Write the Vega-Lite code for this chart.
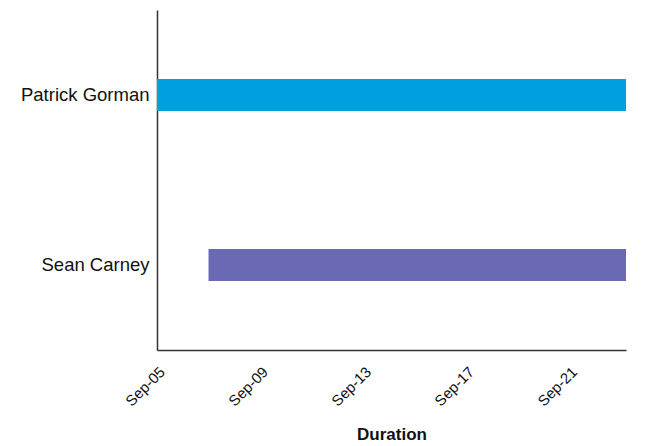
{
  "$schema": "https://vega.github.io/schema/vega-lite/v6.json",
  "width": 469,
  "height": 340,
  "autosize": {"type": "none"},
  "padding": {"left": 157, "top": 10, "right": 27, "bottom": 96},
  "background": "white",
  "config": {
    "font": "Liberation Sans",
    "view": {"stroke": null}
  },
  "data": {
    "values": [
      {"person": "Patrick Gorman", "start": "2023-09-05T00:00:00", "end": "2023-09-23T05:00:00"},
      {"person": "Sean Carney", "start": "2023-09-07T00:00:00", "end": "2023-09-23T05:00:00"}
    ]
  },
  "mark": {"type": "bar", "height": 32},
  "encoding": {
    "y": {
      "field": "person",
      "type": "nominal",
      "sort": ["Patrick Gorman", "Sean Carney"],
      "scale": {"paddingInner": 0, "paddingOuter": 0},
      "axis": {
        "title": null,
        "ticks": false,
        "domainColor": "#333333",
        "domainWidth": 1.5,
        "labelPadding": 8,
        "labelFontSize": 18.5,
        "labelColor": "#111111"
      }
    },
    "x": {
      "field": "start",
      "type": "temporal",
      "scale": {"domain": ["2023-09-05T00:00:00", "2023-09-23T05:00:00"], "nice": false},
      "axis": {
        "title": "Duration",
        "titleFontSize": 17,
        "titleFontWeight": "bold",
        "titleColor": "#111111",
        "format": "%b-%d",
        "tickCount": {"interval": "day", "step": 4},
        "ticks": false,
        "grid": false,
        "domainColor": "#333333",
        "domainWidth": 1.5,
        "labelAngle": -45,
        "labelFontSize": 15,
        "labelColor": "#111111",
        "labelPadding": 14,
        "labelDx": 13,
        "labelDy": 12,
        "titlePadding": 18
      }
    },
    "x2": {"field": "end"},
    "color": {
      "field": "person",
      "type": "nominal",
      "scale": {"domain": ["Patrick Gorman", "Sean Carney"], "range": ["#00A0E0", "#6A6AB4"]},
      "legend": null
    }
  }
}
